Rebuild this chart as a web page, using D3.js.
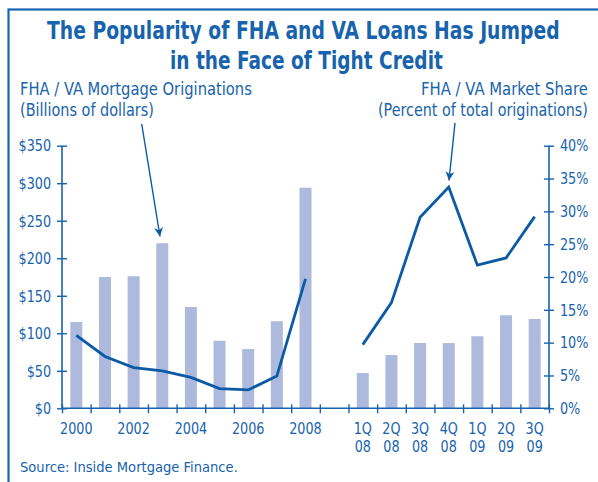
<!DOCTYPE html>
<html>
<head>
<meta charset="utf-8">
<script src="https://cdn.jsdelivr.net/npm/d3@7"></script>
<style>
  body { margin: 0; background: #fff; }
  svg text { font-family: "Liberation Sans Narrow", "DejaVu Sans Condensed", "Roboto Condensed", sans-serif; fill: #1763ad; }
</style>
</head>
<body>
<div class="chart"></div>
<script>
var svgWidth = 598;
var svgHeight = 482;

// Data
var years = ["2000", "2001", "2002", "2003", "2004", "2005", "2006", "2007", "2008"];
var yearVolume = [115, 175, 176, 220, 135, 90, 79, 116, 294];
var yearShare = [11.1, 7.9, 6.2, 5.7, 4.7, 3.0, 2.8, 4.9, 19.7];

var quarters = ["1Q 08", "2Q 08", "3Q 08", "4Q 08", "1Q 09", "2Q 09", "3Q 09"];
var quarterVolume = [47, 71, 87, 87, 96, 124, 119];
var quarterShare = [9.7, 16.1, 29.1, 33.7, 21.8, 22.9, 29.2];

var leftTicks = [0, 50, 100, 150, 200, 250, 300, 350];
var rightTicks = [0, 5, 10, 15, 20, 25, 30, 35, 40];
var yearLabels = ["2000", "2002", "2004", "2006", "2008"];

var blue = "#1763ad";
var lineBlue = "#0b5aa5";
var barColor = "#adbadd";

var margin = { top: 145.7, right: 49, bottom: 74, left: 62 };
var width = svgWidth - margin.left - margin.right;
var height = 408.3 - margin.top;

var svg = d3.select(".chart")
  .append("svg")
  .attr("width", svgWidth)
  .attr("height", svgHeight);

// squeeze text horizontally, the original uses a condensed face
function squeeze(sel, k) {
  sel.each(function() {
    var w = this.getComputedTextLength();
    d3.select(this).attr("textLength", w * k).attr("lengthAdjust", "spacingAndGlyphs");
  });
}
// place a text at (x, y) and scale it to a given width
function placeText(x, y, size, str, w, bold) {
  var t = svg.append("text")
    .attr("font-size", size)
    .attr("font-weight", bold ? "bold" : null)
    .text(str);
  var nat = t.node().getComputedTextLength();
  t.attr("transform", `translate(${x},${y}) scale(${w / nat},1)`);
  return t;
}

// frame
svg.append("rect")
  .attr("x", 8.5)
  .attr("y", 9.5)
  .attr("width", 620)
  .attr("height", 500)
  .attr("fill", "none")
  .attr("stroke", "#1565b3")
  .attr("stroke-width", 2.2);

// title
placeText(47, 39, 25.5, "The Popularity of FHA and VA Loans Has Jumped", 513, true);
placeText(170, 69, 25.5, "in the Face of Tight Credit", 273, true);

// axis titles
placeText(20, 95, 17, "FHA / VA Mortgage Originations", 232);
placeText(20, 116, 17, "(Billions of dollars)", 134);
placeText(421, 95, 17, "FHA / VA Market Share", 167);
placeText(378, 116, 17, "(Percent of total originations)", 210);

var chartGroup = svg.append("g")
  .attr("transform", `translate(${margin.left}, ${margin.top})`);

// slots: 9 years, one empty gap, 7 quarters
var slots = years.concat(["gap"]).concat(quarters);

var xBand = d3.scaleBand()
  .domain(slots)
  .range([0, width])
  .padding(0);

var xEdge = d3.scaleLinear()
  .domain([0, slots.length])
  .range([0, width]);

var yLeft = d3.scaleLinear().domain([0, 350]).range([height, 0]);
var yRight = d3.scaleLinear().domain([0, 40]).range([height, 0]);

var barWidth = 12;
var center = d => xBand(d) + xBand.bandwidth() / 2;

// bars
var barData = years.map((d, i) => ({ key: d, v: yearVolume[i] }))
  .concat(quarters.map((d, i) => ({ key: d, v: quarterVolume[i] })));

chartGroup.selectAll(".bar")
  .data(barData)
  .enter()
  .append("rect")
  .attr("class", "bar")
  .attr("x", d => center(d.key) - barWidth / 2)
  .attr("y", d => yLeft(d.v))
  .attr("width", barWidth)
  .attr("height", d => height - yLeft(d.v))
  .attr("fill", barColor);

// axes
var leftAxis = d3.axisLeft(yLeft).tickValues(leftTicks).tickSize(5).tickPadding(6)
  .tickFormat(d => "$" + d);
var rightAxis = d3.axisRight(yRight).tickValues(rightTicks).tickSize(5).tickPadding(6)
  .tickFormat(d => d + "%");
var bottomAxis = d3.axisBottom(xEdge).tickValues(d3.range(slots.length + 1)).tickSize(5)
  .tickFormat("");

function styleAxis(g, dir) {
  g.select(".domain").attr("stroke", blue).attr("stroke-width", 1.6);
  g.selectAll(".tick line").attr("stroke", blue).attr("stroke-width", 1.4);
  if (dir === "x") g.selectAll(".tick line").attr("y1", -4).attr("y2", 5);
  if (dir === "l") g.selectAll(".tick line").attr("x1", 5).attr("x2", -5);
  if (dir === "r") g.selectAll(".tick line").attr("x1", -5).attr("x2", 5);
  g.selectAll(".tick text").attr("fill", blue).attr("font-size", 16.5)
    .style("font-family", '"Liberation Sans Narrow", "DejaVu Sans Condensed", sans-serif')
    .call(squeeze, 0.86);
}

chartGroup.append("g")
  .attr("transform", `translate(0, ${height})`)
  .call(bottomAxis)
  .call(g => { g.select(".domain").attr("d", `M0,0H${width}`); styleAxis(g, "x"); });

chartGroup.append("g")
  .call(leftAxis)
  .call(g => { g.select(".domain").attr("d", `M0,0V${height}`); styleAxis(g, "l"); });

chartGroup.append("g")
  .attr("transform", `translate(${width}, 0)`)
  .call(rightAxis)
  .call(g => { g.select(".domain").attr("d", `M0,0V${height}`); styleAxis(g, "r"); });

// x labels
chartGroup.selectAll(".ylab")
  .data(yearLabels)
  .enter()
  .append("text")
  .attr("x", d => center(d))
  .attr("y", height + 26)
  .attr("text-anchor", "middle")
  .attr("font-size", 16.5)
  .text(d => d)
  .call(squeeze, 0.86);

var qLabels = chartGroup.selectAll(".qlab")
  .data(quarters)
  .enter()
  .append("text")
  .attr("text-anchor", "middle")
  .attr("font-size", 16.5);
qLabels.append("tspan")
  .attr("x", d => center(d))
  .attr("y", height + 26)
  .text(d => d.split(" ")[0]);
qLabels.append("tspan")
  .attr("x", d => center(d))
  .attr("y", height + 44)
  .text(d => d.split(" ")[1]);
qLabels.selectAll("tspan").call(squeeze, 0.86);

// share lines
var line = d3.line()
  .x(d => center(d.key))
  .y(d => yRight(d.v));

chartGroup.append("path")
  .datum(years.map((d, i) => ({ key: d, v: yearShare[i] })))
  .attr("d", line)
  .attr("fill", "none")
  .attr("stroke", lineBlue)
  .attr("stroke-width", 2.8);

chartGroup.append("path")
  .datum(quarters.map((d, i) => ({ key: d, v: quarterShare[i] })))
  .attr("d", line)
  .attr("fill", "none")
  .attr("stroke", lineBlue)
  .attr("stroke-width", 2.8);

// pointer arrows
var defs = svg.append("defs");
defs.append("marker")
  .attr("id", "head")
  .attr("viewBox", "0 0 10 10")
  .attr("refX", 10)
  .attr("refY", 5)
  .attr("markerWidth", 9)
  .attr("markerHeight", 9)
  .attr("markerUnits", "userSpaceOnUse")
  .attr("orient", "auto")
  .append("path")
  .attr("d", "M0,0L10,5L0,10L3,5Z")
  .attr("fill", lineBlue);

svg.append("line")
  .attr("x1", 141.7).attr("y1", 124)
  .attr("x2", 160).attr("y2", 236.5)
  .attr("stroke", lineBlue).attr("stroke-width", 1.4)
  .attr("marker-end", "url(#head)");

svg.append("line")
  .attr("x1", 455).attr("y1", 123)
  .attr("x2", 449).attr("y2", 180.5)
  .attr("stroke", lineBlue).attr("stroke-width", 1.4)
  .attr("marker-end", "url(#head)");

// source
placeText(20, 472, 14.5, "Source: Inside Mortgage Finance.", 218);
</script>
</body>
</html>
